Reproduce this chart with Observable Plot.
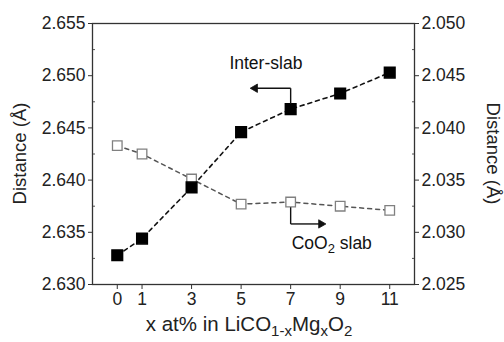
<!DOCTYPE html>
<html>
<head>
<meta charset="utf-8">
<script src="https://cdn.jsdelivr.net/npm/d3@7"></script>
<script src="https://cdn.jsdelivr.net/npm/@observablehq/plot@0.6"></script>
<style>
  html, body { margin: 0; padding: 0; background: #fff; }
  #chart svg { display: block; }
</style>
</head>
<body>
<div id="chart"></div>
<script>
// ---- data ----
const xValues = [0, 1, 3, 5, 7, 9, 11];
const interSlab = [2.6328, 2.6344, 2.6393, 2.6446, 2.6468, 2.6483, 2.6503]; // left axis
const coo2Slab = [2.0383, 2.0375, 2.0351, 2.0327, 2.0329, 2.0325, 2.0321];  // right axis
const leftTicks = [2.630, 2.635, 2.640, 2.645, 2.650, 2.655];
const leftMinor = [2.6325, 2.6375, 2.6425, 2.6475, 2.6525];
const rightTicks = [2.025, 2.030, 2.035, 2.040, 2.045, 2.050];
const rightMinor = [2.0275, 2.0325, 2.0375, 2.0425, 2.0475];
const rightOffset = 2.630 - 2.025; // maps right-axis values onto left scale

// annotation anchors (data units)
const interArrow = { x: 7, yStart: 2.6473, yBend: 2.6488, xEnd: 5.38, rot: -90, dx: 4.5 };
const interLabel = { x: 6.0, y: 2.6512, text: "Inter-slab" };
const cooArrow = { x: 7, yStart: 2.0324, yBend: 2.0308, xEnd: 8.41, rot: 90, dx: -4.5 }; // right-axis units
const cooLabel = { x: 8.68, y: 2.0284 };

const interData = xValues.map((x, i) => ({ x, y: interSlab[i] }));
const cooData = xValues.map((x, i) => ({ x, y: coo2Slab[i] + rightOffset }));

const FONT = "'Liberation Sans', Arial, Helvetica, sans-serif";

function bentArrow(a, off) {
  return [
    Plot.link([a], { x1: "x", y1: d => d.yStart + off, x2: "x", y2: d => d.yBend + off, stroke: "#111", strokeWidth: 1.4 }),
    Plot.link([a], { x1: "x", y1: d => d.yBend + off, x2: d => d.xEnd + (a.dx > 0 ? 0.2 : -0.2), y2: d => d.yBend + off,
                     stroke: "#111", strokeWidth: 1.4 }),
    Plot.dot([a], { x: "xEnd", y: d => d.yBend + off, symbol: "triangle", r: 3.1, rotate: a.rot, dx: a.dx,
                    fill: "#111", stroke: "#111", strokeWidth: 0.8 })
  ];
}

const chart = Plot.plot({
  width: 504,
  height: 342,
  marginLeft: 92,
  marginRight: 90,
  marginTop: 23,
  marginBottom: 58,
  style: { fontFamily: FONT, fontSize: "17.5px", color: "#222", background: "#fff" },
  x: { domain: [-1, 12] },
  y: { domain: [2.630, 2.655] },
  marks: [
    Plot.axisX({ ticks: xValues, tickSize: 5, tickPadding: 3, tickFormat: d => String(d), label: null, stroke: "#333" }),
    Plot.axisY({ anchor: "left", ticks: leftTicks, tickSize: 4, tickPadding: 3, tickFormat: d3.format(".3f"), label: null, stroke: "#333" }),
    Plot.axisY({ anchor: "left", ticks: leftMinor, tickSize: -3, tickFormat: () => "", label: null, stroke: "#555" }),
    Plot.axisY({ anchor: "right", ticks: rightTicks.map(v => v + rightOffset), tickSize: 4, tickPadding: 3,
                 tickFormat: d => (d - rightOffset).toFixed(3), label: null, stroke: "#333" }),
    Plot.axisY({ anchor: "right", ticks: rightMinor.map(v => v + rightOffset), tickSize: -3, tickFormat: () => "", label: null, stroke: "#555" }),
    Plot.frame({ stroke: "#333", strokeWidth: 1.3 }),
    // dashed connecting lines
    Plot.line(cooData, { x: "x", y: "y", stroke: "#555", strokeWidth: 1.5, strokeDasharray: "4,4" }),
    Plot.line(interData, { x: "x", y: "y", stroke: "#111", strokeWidth: 1.6, strokeDasharray: "4,4" }),
    // markers
    Plot.dot(cooData, { x: "x", y: "y", symbol: "square", r: 5.4, fill: "#fff", stroke: "#808080", strokeWidth: 1.3 }),
    Plot.dot(interData, { x: "x", y: "y", symbol: "square", r: 6.0, fill: "#000", stroke: "#000" }),
    // annotations
    ...bentArrow(interArrow, 0),
    Plot.text([interLabel], { x: "x", y: "y", text: "text", fontSize: 17.5, fill: "#111" }),
    ...bentArrow(cooArrow, rightOffset)
  ]
});

document.getElementById("chart").appendChild(chart);

// ---- labels with rotated text and subscripts, positioned through the plot's scales ----
const sx = chart.scale("x"), sy = chart.scale("y");
const svg = d3.select(chart);
const cy = (sy.apply(2.630) + sy.apply(2.655)) / 2;
const left = sx.apply(-1), right = sx.apply(12), bottom = sy.apply(2.630);

svg.append("text")
  .attr("transform", `translate(${left - 72},${cy}) rotate(-90)`)
  .attr("text-anchor", "middle").attr("dy", "0.35em")
  .attr("font-family", FONT).attr("font-size", 18.5).attr("fill", "#222")
  .text("Distance (Å)");

svg.append("text")
  .attr("transform", `translate(${right + 79},${cy}) rotate(90)`)
  .attr("text-anchor", "middle").attr("dy", "0.35em")
  .attr("font-family", FONT).attr("font-size", 18.5).attr("fill", "#222")
  .text("Distance (Å)");

function subText(sel, parts, subSize, shift) {
  let lastSub = false;
  parts.forEach(([t, sub]) => {
    const ts = sel.append("tspan").text(t);
    if (sub) ts.attr("font-size", subSize).attr("dy", lastSub ? 0 : shift);
    else ts.attr("dy", lastSub ? -shift : 0);
    lastSub = !!sub;
  });
}

const xl = svg.append("text")
  .attr("x", (left + right) / 2 - 4).attr("y", bottom + 47)
  .attr("text-anchor", "middle")
  .attr("font-family", FONT).attr("font-size", 20.5).attr("fill", "#222");
subText(xl, [["x at% in LiCO"], ["1-x", true], ["Mg"], ["x", true], ["O"], ["2", true]], 15, 5);

const cl = svg.append("text")
  .attr("x", sx.apply(cooLabel.x)).attr("y", sy.apply(cooLabel.y + rightOffset))
  .attr("text-anchor", "middle").attr("dy", "0.35em")
  .attr("font-family", FONT).attr("font-size", 17.5).attr("fill", "#111");
subText(cl, [["CoO"], ["2", true], [" slab"]], 13, 4);
</script>
</body>
</html>
